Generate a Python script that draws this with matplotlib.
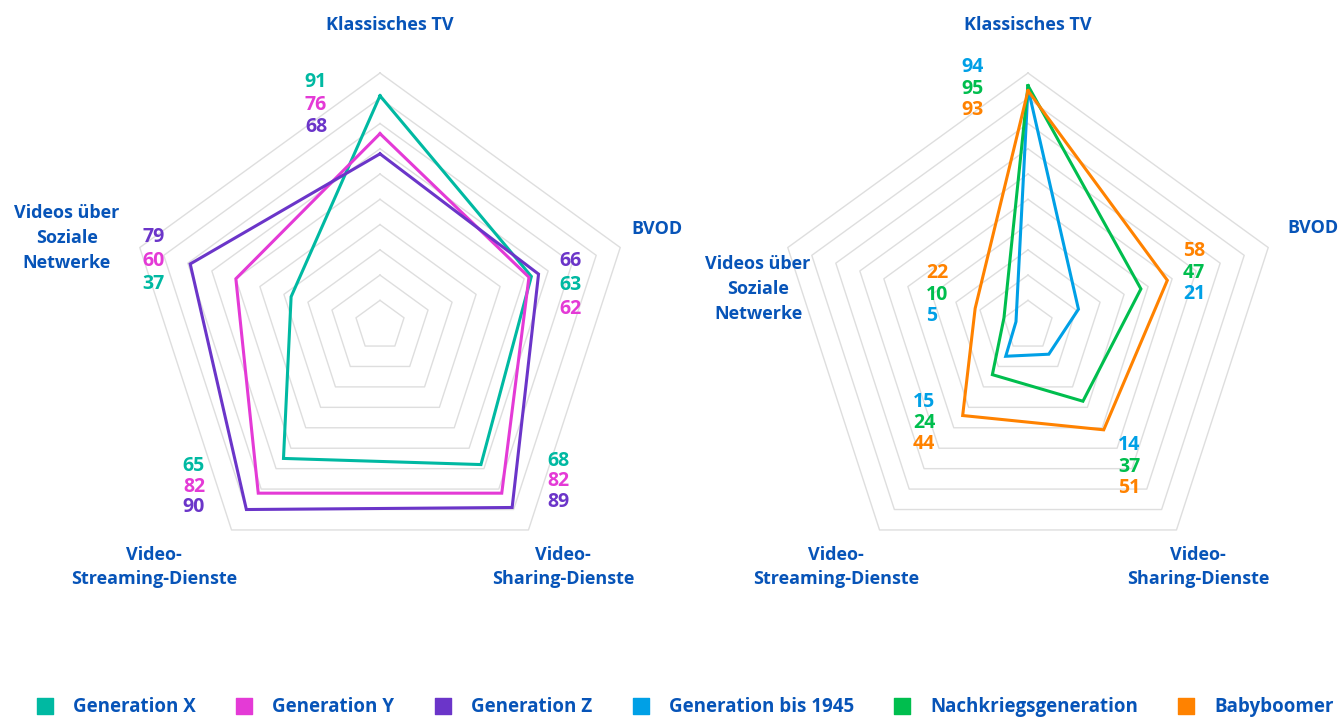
import matplotlib
matplotlib.use("Agg")
import matplotlib.pyplot as plt
import numpy as np

# categories (clockwise from top)
categories = ["Klassisches TV", "BVOD", "Video-\nSharing-Dienste",
              "Video-\nStreaming-Dienste", "Videos über\nSoziale\nNetwerke"]

# left chart
left_series = ["Generation X", "Generation Y", "Generation Z"]
gen_x = [91, 63, 68, 65, 37]
gen_y = [76, 62, 82, 82, 60]
gen_z = [68, 66, 89, 90, 79]

# right chart
right_series = ["Generation bis 1945", "Nachkriegsgeneration", "Babyboomer"]
gen_1945 = [94, 21, 14, 15, 5]
nachkrieg = [95, 47, 37, 24, 10]
boomer = [93, 58, 51, 44, 22]

colors = {
    "Generation X": "#00B9A2",
    "Generation Y": "#E43AD6",
    "Generation Z": "#6B35C9",
    "Generation bis 1945": "#00A0E6",
    "Nachkriegsgeneration": "#00BE4E",
    "Babyboomer": "#FF8200",
}
label_blue = "#0754B8"
grid_col = "#DEDEDE"

plt.rcParams["font.family"] = ["Open Sans", "DejaVu Sans"]

W, H = 1343, 717
fig = plt.figure(figsize=(W / 100, H / 100), dpi=100)
ax = fig.add_axes([0, 0, 1, 1])
ax.set_xlim(0, W)
ax.set_ylim(H, 0)
ax.axis("off")

R = 252.6
angles = np.deg2rad(np.arange(5) * 72.0)


def pos(cx, cy, v, i):
    r = v / 100.0 * R
    return cx + r * np.sin(angles[i]), cy - r * np.cos(angles[i])


def radar(cx, cy, names, data, value_pos, cat_pos):
    # grid rings
    for lvl in range(10, 101, 10):
        pts = [pos(cx, cy, lvl, i) for i in range(5)]
        pts.append(pts[0])
        xs, ys = zip(*pts)
        ax.plot(xs, ys, color=grid_col, lw=1.0, zorder=1)
    # series
    for name, vals in zip(names, data):
        pts = [pos(cx, cy, v, i) for i, v in enumerate(vals)]
        pts.append(pts[0])
        xs, ys = zip(*pts)
        ax.plot(xs, ys, color=colors[name], lw=2.2, zorder=3,
                solid_joinstyle="miter")
    # value labels
    for i in range(5):
        items = list(zip(names, [d[i] for d in data]))
        if i in (1, 4):
            items.sort(key=lambda t: -t[1])
        elif i in (2, 3):
            items.sort(key=lambda t: t[1])
        x, y0, dy, ha = value_pos[i]
        for k, (name, v) in enumerate(items):
            ax.text(cx + x, y0 + k * dy, str(v), color=colors[name],
                    fontsize=14, fontweight="bold", ha=ha, va="center")
    # category labels
    for i, cat in enumerate(categories):
        x, y = cat_pos[i]
        ax.text(cx + x, y, cat, color=label_blue, fontsize=13,
                fontweight="bold", ha="center", va="center",
                linespacing=1.48)


radar(380, 325.6, left_series, [gen_x, gen_y, gen_z],
      value_pos=[(-53, 82, 22.5, "right"), (179, 260.5, 24, "left"),
                 (167, 461, 20.5, "left"), (-175, 466, 20.5, "right"),
                 (-215, 237, 23.5, "right")],
      cat_pos=[(10, 25), (277, 229), (183, 567), (-226, 567), (-313, 238)])

radar(1028, 325.6, right_series, [gen_1945, nachkrieg, boomer],
      value_pos=[(-44, 67, 21.5, "right"), (155, 251, 21.5, "left"),
                 (90, 445, 21.5, "left"), (-115, 402, 21, "left"),
                 (-102, 273, 21.5, "left")],
      cat_pos=[(0, 25), (285, 228), (170, 567), (-192, 567), (-270, 289)])

# legend
legend_names = left_series + right_series
legend_x = [45, 244, 443, 641, 902, 1186]
for name, x in zip(legend_names, legend_x):
    ax.scatter([x], [706], marker="s", s=130, color=colors[name], zorder=3)
    ax.text(x + 28, 707, name, color=label_blue, fontsize=13.5,
            fontweight="bold", ha="left", va="center")

fig.savefig("out.png", dpi=100)
